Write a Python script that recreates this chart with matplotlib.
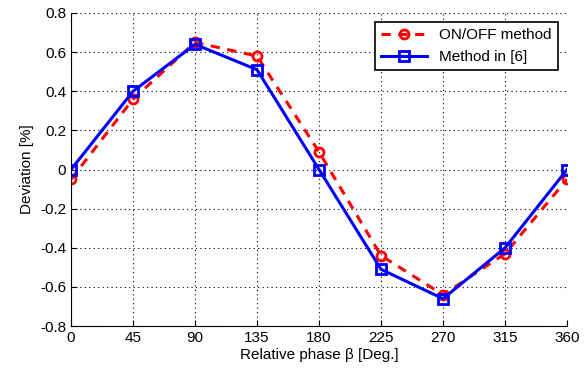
import matplotlib
matplotlib.use("Agg")
import matplotlib.pyplot as plt

plt.rcParams['font.family'] = ['Liberation Sans', 'DejaVu Sans']
plt.rcParams['axes.unicode_minus'] = False

phase = [0, 45, 90, 135, 180, 225, 270, 315, 360]
onoff = [-0.05, 0.36, 0.65, 0.58, 0.09, -0.44, -0.64, -0.43, -0.05]
method6 = [0.0, 0.40, 0.64, 0.51, 0.0, -0.51, -0.66, -0.40, 0.0]

fig = plt.figure(figsize=(5.87, 3.71), dpi=100)
ax = fig.add_axes([0.121, 0.121, 0.845, 0.844])

ax.plot(phase, onoff, '--o', color='red', linewidth=2.2, markersize=6.5,
        markerfacecolor='none', markeredgewidth=2, dashes=(3, 2.5), label='ON/OFF method')
ax.plot(phase, method6, '-s', color='blue', linewidth=2.2, markersize=6.5,
        markerfacecolor='none', markeredgewidth=2, label='Method in [6]')

ax.set_xlim(0, 360)
ax.set_ylim(-0.8, 0.8)
ax.set_xticks(phase)
ax.set_yticks([-0.8, -0.6, -0.4, -0.2, 0, 0.2, 0.4, 0.6, 0.8])
ax.set_yticklabels(['-0.8', '-0.6', '-0.4', '-0.2', '0', '0.2', '0.4', '0.6', '0.8'])
ax.tick_params(labelsize=11, direction='in', length=4)
ax.grid(True, linestyle=(0, (1, 3)), color='black', linewidth=0.8)
for side in ['top', 'right']:
    ax.spines[side].set_visible(False)

ax.set_xlabel('Relative phase \u03b2 [Deg.]', fontsize=11, labelpad=2)
ax.set_ylabel('Deviation [%]', fontsize=11)

leg = ax.legend(loc='upper right', fontsize=11, fancybox=False, framealpha=1,
                edgecolor='black', borderaxespad=0.6, handlelength=3)
leg.get_frame().set_linewidth(1.2)

fig.savefig('out.png', dpi=100)
